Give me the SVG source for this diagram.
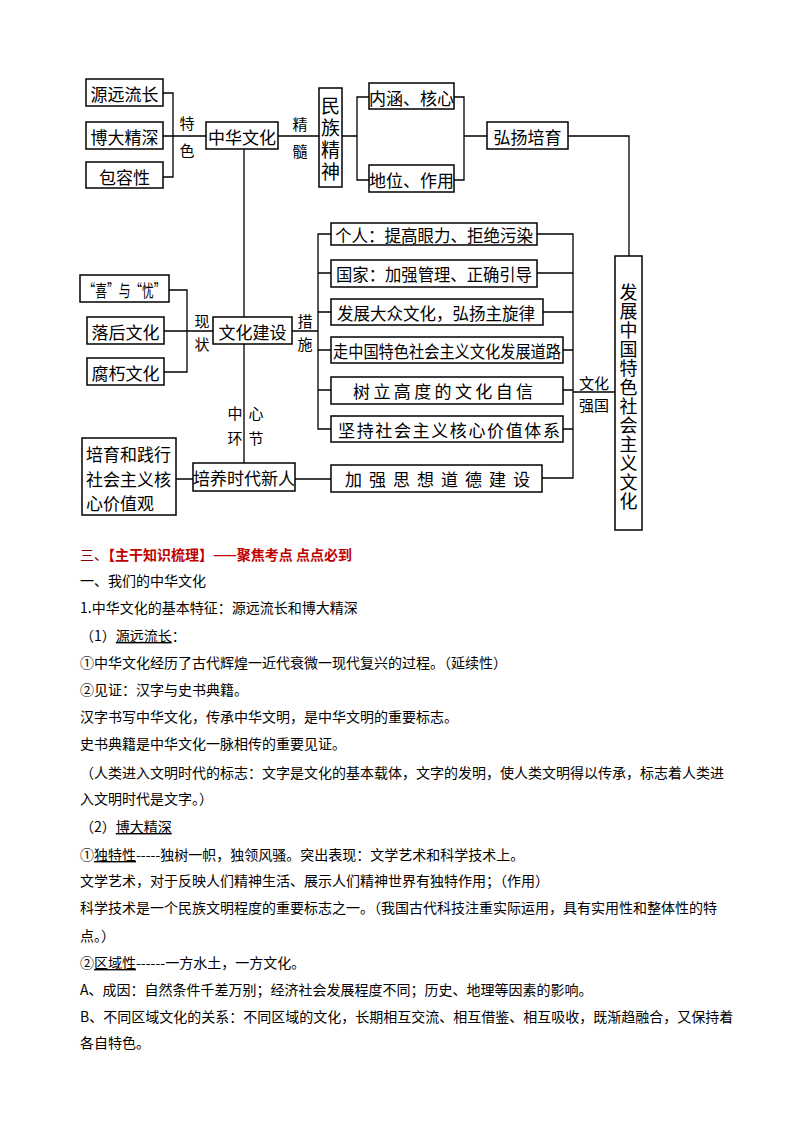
<svg xmlns="http://www.w3.org/2000/svg" width="794" height="1123" viewBox="0 0 794 1123">
<style>
.box{fill:#fff;stroke:#000;stroke-width:1.5}
.bt{font-family:"Noto Sans CJK SC","Noto Sans",sans-serif;font-size:17px;fill:#000;text-anchor:middle;dominant-baseline:central}
.vt{font-family:"Noto Sans CJK SC","Noto Sans",sans-serif;fill:#000;writing-mode:vertical-rl;text-orientation:upright;text-anchor:start}
.lb{font-family:"Noto Sans CJK SC","Noto Sans",sans-serif;font-size:15px;fill:#000;text-anchor:middle;dominant-baseline:central}
.ln{fill:none;stroke:#000;stroke-width:1.3}
.tx{font-family:"Noto Sans CJK SC","Noto Sans",sans-serif;font-size:14px;fill:#000}
.hd{font-family:"Noto Sans CJK SC","Noto Sans",sans-serif;font-size:14px;fill:#c00000;font-weight:bold}
.u{text-decoration:underline}
</style>
<rect width="794" height="1123" fill="#fff"/>
<g id="connectors">
<path class="ln" d="M163,93 H173 V177 H163 M163,136 H206"/>
<path class="ln" d="M278,136 H319"/>
<path class="ln" d="M342,136 H357 M369,97 H357 V180 H369"/>
<path class="ln" d="M454,97 H464 V180 H454 M464,136 H487"/>
<path class="ln" d="M568,136 H629 V256"/>
<path class="ln" d="M244,149 V317 M244,344 V463"/>
<path class="ln" d="M169,290 H187 V372 H164 M164,331 H213"/>
<path class="ln" d="M292,331 H318 M331,234 H318 V429 H331 M318,273 H331 M318,312 H331 M318,350 H331 M318,390 H331"/>
<path class="ln" d="M537,234 H573 V478 H542 M537,273 H573 M543,312 H573 M563,350 H573 M563,390 H573 M563,429 H573"/>
<path class="ln" d="M573,392 H615"/>
<path class="ln" d="M176,479 H193 M295,479 H331"/>
</g>
<g id="labels">
<text class="lb" x="187" y="122">特</text><text class="lb" x="187" y="149">色</text>
<text class="lb" x="300" y="123">精</text><text class="lb" x="300" y="150">髓</text>
<text class="lb" x="202" y="320">现</text><text class="lb" x="202" y="343">状</text>
<text class="lb" x="305" y="320">措</text><text class="lb" x="305" y="343">施</text>
<text class="lb" x="235" y="412">中</text><text class="lb" x="256" y="412">心</text>
<text class="lb" x="235" y="437">环</text><text class="lb" x="256" y="437">节</text>
<text class="lb" x="594" y="382">文化</text><text class="lb" x="594" y="404">强国</text>
</g>
<g id="n-yylc"><rect class="box" x="86" y="79" width="77" height="27"/><text class="bt" x="124.5" y="93">源远流长</text></g>
<g id="n-bdjs"><rect class="box" x="86" y="122" width="77" height="27"/><text class="bt" x="124.5" y="136">博大精深</text></g>
<g id="n-brx"><rect class="box" x="86" y="162" width="77" height="26"/><text class="bt" x="124.5" y="176">包容性</text></g>
<g id="n-zhwh"><rect class="box" x="206" y="122" width="72" height="27"/><text class="bt" x="242" y="136">中华文化</text></g>
<g id="n-mzjs"><rect class="box" x="319" y="88" width="23" height="99"/>
<text class="vt" x="330.5" y="96.5" style="font-size:19px;letter-spacing:3px">民族精神</text></g>
<g id="n-nhhx"><rect class="box" x="369" y="83" width="85" height="26"/><text class="bt" x="411.5" y="97">内涵、核心</text></g>
<g id="n-dwzy"><rect class="box" x="369" y="165" width="85" height="27"/><text class="bt" x="411.5" y="179">地位、作用</text></g>
<g id="n-hypy"><rect class="box" x="487" y="122" width="81" height="27"/><text class="bt" x="527.5" y="136">弘扬培育</text></g>
<g id="n-fzzg"><rect class="box" x="615" y="256" width="27" height="274"/>
<text class="vt" x="628.5" y="283" style="font-size:18px;letter-spacing:1px">发展中国特色社会主义文化</text></g>
<g id="n-geren"><rect class="box" x="331" y="223" width="206" height="22"/><text class="bt" x="434" y="234" textLength="198" lengthAdjust="spacingAndGlyphs">个人：提高眼力、拒绝污染</text></g>
<g id="n-guojia"><rect class="box" x="331" y="260" width="206" height="27"/><text class="bt" x="434" y="273.5" textLength="196" lengthAdjust="spacingAndGlyphs">国家：加强管理、正确引导</text></g>
<g id="n-dzwh"><rect class="box" x="331" y="299" width="212" height="26"/><text class="bt" x="436" y="312" textLength="198" lengthAdjust="spacingAndGlyphs">发展大众文化，弘扬主旋律</text></g>
<g id="n-zzg"><rect class="box" x="331" y="337" width="232" height="26"/><text class="bt" x="447" y="350" textLength="228" lengthAdjust="spacingAndGlyphs">走中国特色社会主义文化发展道路</text></g>
<g id="n-slzx"><rect class="box" x="331" y="377" width="232" height="27"/><text class="bt" x="443" y="390.5" textLength="180" lengthAdjust="spacing">树立高度的文化自信</text></g>
<g id="n-jcsh"><rect class="box" x="331" y="416" width="232" height="26"/><text class="bt" x="449" y="429" textLength="222" lengthAdjust="spacing">坚持社会主义核心价值体系</text></g>
<g id="n-jqsx"><rect class="box" x="331" y="465" width="211" height="27"/><text class="bt" x="437.5" y="478.5" textLength="185" lengthAdjust="spacing">加强思想道德建设</text></g>
<g id="n-xyy"><rect class="box" x="80" y="275" width="89" height="27"/><text class="bt" x="124.5" y="289" textLength="82" lengthAdjust="spacingAndGlyphs">“喜”与“忧”</text></g>
<g id="n-lhwh"><rect class="box" x="87" y="317" width="77" height="27"/><text class="bt" x="125.5" y="331">落后文化</text></g>
<g id="n-fxwh"><rect class="box" x="87" y="358" width="77" height="27"/><text class="bt" x="125.5" y="372">腐朽文化</text></g>
<g id="n-whjs"><rect class="box" x="213" y="317" width="79" height="27"/><text class="bt" x="252.5" y="331">文化建设</text></g>
<g id="n-pysd"><rect class="box" x="193" y="463" width="102" height="28"/><text class="bt" x="244" y="477.5">培养时代新人</text></g>
<g id="n-pyjx"><rect class="box" x="82" y="438" width="94" height="77"/>
<text class="bt" style="text-anchor:start"><tspan x="86" y="453">培育和践行</tspan><tspan x="86" y="478">社会主义核</tspan><tspan x="86" y="502">心价值观</tspan></text></g>
<g id="body">
<text class="hd" x="80" y="560"><tspan fill="#8b0000" font-weight="normal">三、</tspan>【主干知识梳理】——聚焦考点 点点必到</text>
<text class="tx" x="80" y="586">一、我们的中华文化</text>
<text class="tx" x="80" y="613">1.中华文化的基本特征：源远流长和博大精深</text>
<text class="tx" x="80" y="641">（1）<tspan class="u">源远流长</tspan>：</text>
<text class="tx" x="80" y="668">①中华文化经历了古代辉煌一近代衰微一现代复兴的过程。（延续性）</text>
<text class="tx" x="80" y="695">②见证：汉字与史书典籍。</text>
<text class="tx" x="80" y="722">汉字书写中华文化，传承中华文明，是中华文明的重要标志。</text>
<text class="tx" x="80" y="749">史书典籍是中华文化一脉相传的重要见证。</text>
<text class="tx" x="80" y="778">（人类进入文明时代的标志：文字是文化的基本载体，文字的发明，使人类文明得以传承，标志着人类进</text>
<text class="tx" x="80" y="804">入文明时代是文字。）</text>
<text class="tx" x="80" y="832">（2）<tspan class="u">博大精深</tspan></text>
<text class="tx" x="80" y="860">①<tspan class="u">独特性</tspan>-----独树一帜，独领风骚。突出表现：文学艺术和科学技术上。</text>
<text class="tx" x="80" y="886">文学艺术，对于反映人们精神生活、展示人们精神世界有独特作用；（作用）</text>
<text class="tx" x="80" y="913">科学技术是一个民族文明程度的重要标志之一。（我国古代科技注重实际运用，具有实用性和整体性的特</text>
<text class="tx" x="80" y="941">点。）</text>
<text class="tx" x="80" y="968">②<tspan class="u">区域性</tspan>------一方水土，一方文化。</text>
<text class="tx" x="80" y="995">A、成因：自然条件千差万别；经济社会发展程度不同；历史、地理等因素的影响。</text>
<text class="tx" x="80" y="1022">B、不同区域文化的关系：不同区域的文化，长期相互交流、相互借鉴、相互吸收，既渐趋融合，又保持着</text>
<text class="tx" x="80" y="1048">各自特色。</text>
</g>
</svg>
